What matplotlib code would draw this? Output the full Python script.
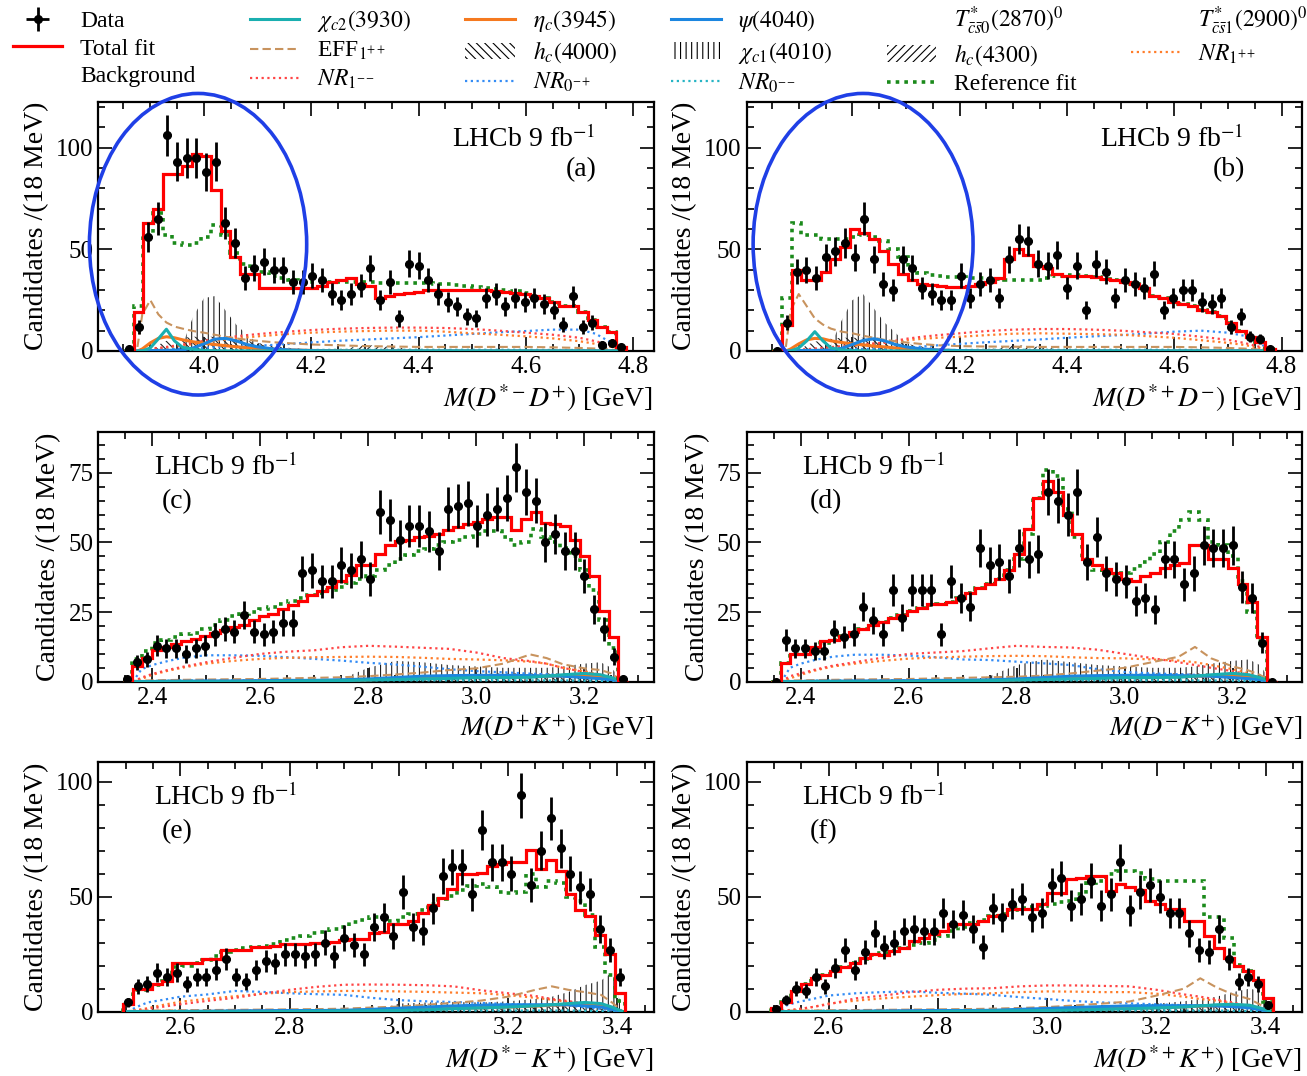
import numpy as np
import matplotlib
matplotlib.use('Agg')
import matplotlib.pyplot as plt
from matplotlib.lines import Line2D
from matplotlib.patches import Patch, Ellipse
from matplotlib.ticker import MultipleLocator, FormatStrFormatter

plt.rcParams['font.family'] = 'serif'
plt.rcParams['font.serif'] = ['Liberation Serif', 'DejaVu Serif']
plt.rcParams['mathtext.fontset'] = 'stix'
plt.rcParams['hatch.linewidth'] = 0.8

BIN = 0.018

# centre of the first bin of each spectrum
x0_ab = 3.860
x0_cd = 2.354
x0_ef = 2.504

# ---------------- (a) M(D*- D+) ----------------
a_data = [1, 12, 56, 65, 106, 93, 95, 95, 88, 93, 63, 53, 36, 41, 44, 40, 40, 34, 34, 37,
          35, 28, 25, 28, 32, 41, 25, 34, 16, 43, 42, 35, 28, 24, 22, 17, 16, 26, 28, 22,
          26, 24, 26, 23, 20, 13, 27, 12, 14, 3, 4, 2]
a_fit = [0, 19, 63, 70, 87, 87, 91, 97, 96, 79, 59, 46, 38, 38, 31, 31, 31, 31, 31, 31,
         32, 34, 35, 36, 33, 32, 26, 27, 28, 28.5, 29, 30, 30, 30, 30, 30, 30, 30, 29.5, 29,
         28.5, 28, 27, 26, 24, 22, 22, 19, 15, 12, 9.5, 2]
a_ref = [0, 22, 57, 68, 57, 53, 52, 53, 56, 62, 57, 48, 43, 41, 39, 37, 36, 35, 34, 34,
         34, 34, 34, 34, 34, 34, 33.5, 33.5, 33.5, 33.5, 33.5, 33.5, 33, 33, 32.5, 32, 31.5, 31, 30.5, 30,
         29.5, 28.5, 27, 26, 24, 22, 22, 19, 15, 12, 9.5, 2]

# ---------------- (b) M(D*+ D-) ----------------
b_data = [0, 14, 39, 40, 36, 46, 49, 53, 46, 65, 45, 33, 30, 45, 41, 31, 28, 25, 25, 37,
          26, 33, 35, 26, 45, 55, 54, 43, 42, 47, 31, 42, 20, 43, 39, 26, 35, 33, 31, 38,
          20, 26, 30, 30, 24, 23, 26, 12, 17, 7, 6, 1]
b_fit = [0, 13, 40, 35, 35, 39, 45, 51, 60, 58, 55, 49, 43, 38, 35, 33, 32.5, 32, 31.5, 31.5,
         32, 33, 34, 36, 45, 50, 47, 42, 41, 38, 37, 37, 37, 36.5, 35.5, 35, 34, 33, 31, 27,
         26, 24, 23, 22, 20, 19, 17, 14, 10, 7, 4.5, 1]
b_ref = [0, 26, 63, 57, 57, 55, 55, 55, 56, 57, 56, 54, 50, 46, 41, 38.5, 37.5, 37, 36.5, 36.5,
         36, 36, 35.5, 35.5, 35, 35, 35, 35, 36, 37, 37.5, 37.5, 37, 36.5, 35.5, 35, 34, 33, 31, 27,
         26, 24, 23, 22, 20, 19, 17, 14, 10, 7, 4.5, 1]

# ---------------- (c) M(D+ K+) ----------------
c_data = [1, 7, 8, 13, 12, 12, 10, 12, 13, 17, 19, 18, 24, 18, 17, 18, 21, 21, 39, 40,
          36, 36, 42, 40, 44, 37, 61, 58, 51, 56, 56, 54, 47, 62, 63, 64, 56, 60, 62, 66,
          77, 68, 65, 50, 53, 47, 47, 38, 26, 19, 9, 1]
c_fit = [0, 5.5, 8.5, 11.5, 12.5, 13.5, 14.5, 15.5, 16.5, 17.5, 18.5, 19.5, 20.5, 22, 23.5, 24.5, 26, 27.5, 29, 31,
         32.5, 34, 36, 38.5, 42, 42, 46, 49, 50.5, 51, 52, 52.5, 53, 54.5, 55.5, 56.5, 57.5, 58.5, 59, 59,
         54.5, 58.5, 61, 57, 56.5, 56, 51, 45, 38, 25.5, 16, 0]
c_ref = [0, 8, 11, 14, 15, 16, 17, 17.5, 19, 20.5, 22, 23.5, 24.5, 25, 26, 27, 28, 29, 30, 31,
         32, 33, 34, 35.5, 37, 38, 40, 42, 44, 45.5, 47, 47.5, 49, 50, 51, 52, 53, 54, 54, 52,
         49, 50, 55, 52, 50, 48, 45, 40, 33, 22, 12, 0]

# ---------------- (d) M(D- K+) ----------------
d_data = [0, 15, 12, 12, 11, 11, 18, 16, 17, 27, 22, 17, 33, 23, 33, 33, 33, 17, 36, 30,
          27, 48, 42, 43, 38, 48, 44, 46, 68, 65, 60, 68, 43, 52, 39, 37, 36, 29, 30, 26,
          44, 44, 35, 39, 49, 48, 48, 49, 34, 30, 14, 0]
d_fit = [0, 6.6, 10, 10, 12.5, 14.5, 15, 16.5, 17.8, 19, 20.5, 21.5, 23, 24, 25.5, 26.5, 28, 28, 28.5, 30,
         32, 33.5, 35, 37, 40, 46, 55, 66, 72, 68, 60, 53, 44, 42, 40.5, 39, 37, 36, 38, 39,
         41, 42, 42.5, 49, 49, 44, 44, 41, 35, 28.5, 16, 0]
d_ref = [0, 6.6, 10, 10.5, 12, 14, 15, 16.5, 17.5, 19, 20.5, 21.5, 23, 24, 25.5, 26.5, 27.5, 28, 28.5, 30,
         32, 33.5, 35, 37, 40, 44, 53, 66, 76, 74, 62, 52, 44, 40, 39, 38.5, 39, 40.5, 43, 46,
         50, 54, 58, 61, 58, 50, 49, 45, 36, 25, 14.5, 0]

# ---------------- (e) M(D*- K+) ----------------
e_data = [4, 11, 12, 17, 15, 17, 12, 15, 15, 18, 23, 15, 13, 18, 22, 21, 25, 25, 24, 25,
          30, 24, 32, 29, 25, 37, 41, 33, 52, 37, 35, 45, 59, 63, 63, 51, 79, 65, 65, 60,
          94, 55, 70, 84, 71, 60, 54, 51, 36, 27, 15]
e_fit = [3.3, 9.7, 9.7, 12, 13.5, 21, 21, 21.3, 23, 23, 27, 27, 27, 28, 28.3, 28.5, 29.5, 29.5, 29.5, 30,
         30, 30.5, 31, 31.5, 31.5, 34, 34.5, 38, 38, 39.5, 43, 46.5, 49.5, 53.5, 60, 60, 60.5, 63.5, 64, 65,
         65, 70.5, 62, 66, 61, 51, 44, 41.5, 33.5, 25, 8]
e_ref = [3.3, 9.5, 9.5, 11.5, 13.5, 19.5, 20, 21, 22.5, 24, 26, 27, 27.5, 28, 28.5, 29.5, 31, 32, 33, 34,
         34.5, 36, 37, 39, 40, 41, 40.5, 39.5, 41, 42.5, 44, 47, 49, 50.5, 53, 54.5, 55.5, 54, 52, 51.5,
         52, 60, 54, 57, 56, 50, 48, 42, 28, 16, 4.5]

# ---------------- (f) M(D*+ K+) ----------------
f_data = [1, 5, 10, 9, 15, 11, 19, 27, 18, 26, 34, 28, 30, 35, 36, 35, 35, 43, 38, 42,
          36, 28, 45, 41, 47, 49, 41, 43, 55, 58, 46, 49, 57, 46, 51, 65, 44, 52, 55, 50,
          43, 43, 34, 27, 26, 36, 23, 13, 15, 12, 3]
f_fit = [1.5, 4.4, 8.8, 12, 14.6, 16, 17.5, 19.3, 21.2, 23.4, 25, 24.5, 26.3, 27.7, 30.7, 32, 33.6, 35, 38, 38,
         38, 39.4, 41.6, 42, 44.5, 44.5, 44.5, 46.7, 51.8, 51.8, 57.7, 58, 59, 59, 52.6, 55.5, 54, 53, 48.2, 47,
         44.5, 44.5, 39.4, 39.4, 32.8, 27.7, 23.4, 19.7, 17.5, 13.9, 5.8]
f_ref = [1.5, 4.4, 8.8, 12, 14.6, 16, 17.5, 19.3, 21.2, 23, 24.5, 25.5, 26.5, 27.5, 29, 30, 31, 33, 35, 37,
         38.5, 40, 41.5, 42.5, 44, 45, 45.5, 46, 47, 47.5, 48, 51, 56, 57, 60, 61, 61, 60.5, 57.7, 57,
         57, 57, 57, 57, 41, 41, 32, 20.4, 17.5, 13, 4]

# ---------------- fit components ----------------
grid_ab = [3.876, 3.885, 3.90, 3.915, 3.93, 3.945, 3.96, 3.98, 4.00, 4.02, 4.04, 4.06, 4.08, 4.10, 4.13,
           4.16, 4.20, 4.25, 4.30, 4.35, 4.40, 4.45, 4.50, 4.55, 4.60, 4.65, 4.70, 4.73, 4.76, 4.786]

a_eff = [2, 18, 25, 18, 14, 12, 11, 9.8, 9, 8, 7, 6.2, 5.5, 5, 4.3, 3.8, 3.2, 2.8, 2.4, 2.2, 2, 2, 2, 2, 2, 1.8, 1.5, 1.2, 0.7, 0]
a_chic2 = [0, 0, 1.5, 6, 10.7, 5, 1.8, 0.8, 0.3, 0.1, 0, 0, 0, 0, 0, 0, 0, 0, 0, 0, 0, 0, 0, 0, 0, 0, 0, 0, 0, 0]
a_etac = [0, 1, 4, 6.2, 7, 6.5, 5.5, 4.5, 3.8, 3.2, 2.6, 2.1, 1.6, 1.2, 0.8, 0.5, 0.3, 0.1, 0, 0, 0, 0, 0, 0, 0, 0, 0, 0, 0, 0]
a_psi = [0, 0, 0.2, 0.3, 0.3, 0.4, 0.5, 1.5, 3.5, 5.8, 6.2, 5, 3.2, 2, 1, 0.5, 0.2, 0, 0, 0, 0, 0, 0, 0, 0, 0, 0, 0, 0, 0]
a_chic1 = [0, 0, 0, 0, 0, 0, 3, 17, 26, 27, 20, 13, 8, 4, 1, 0, 0, 0, 0, 0, 0, 0, 0, 0, 0, 0, 0, 0, 0, 0]
a_hc4000 = [0, 0, 0, 3, 5, 6, 6.5, 7, 7, 7, 6.5, 6, 5, 4, 2.5, 1.5, 0.8, 0.3, 0, 0, 0, 0, 0, 0, 0, 0, 0, 0, 0, 0]
a_hc4300 = [0, 0, 0, 0, 0, 0, 0, 0, 0, 0, 0, 0, 0, 0, 0, 0, 0, 0.5, 3, 2, 0.5, 0, 0, 0, 0, 0, 0, 0, 0, 0]
a_nr1mm = [0, 0.5, 1, 1.5, 2, 2.6, 3.2, 4, 5, 5.8, 6.5, 7.2, 7.8, 8.3, 9, 9.6, 10.3, 10.9, 11.3, 11.5, 11.5, 11.3, 10.8, 10, 9, 8, 6.5, 4.8, 2.8, 0]
a_nr1pp = [0, 0.4, 0.8, 1.2, 1.7, 2.2, 2.7, 3.4, 4.2, 5, 5.6, 6.2, 6.7, 7.2, 7.8, 8.4, 9, 9.5, 9.8, 10, 10, 9.5, 8.7, 8, 7.2, 6.2, 4.8, 3.5, 2, 0]
a_nr0mp = [0, 0.2, 0.4, 0.6, 0.8, 1, 1.2, 1.4, 1.6, 1.8, 2, 2.2, 2.4, 2.6, 3, 3.5, 4.2, 5, 5.6, 6.2, 6.8, 7.6, 8.4, 9.2, 9.8, 10.5, 10.5, 8.5, 4, 0]
a_nr0mm = [0, 0.1, 0.2, 0.3, 0.4, 0.4, 0.5, 0.5, 0.5, 0.5, 0.5, 0.5, 0.5, 0.5, 0.5, 0.5, 0.5, 0.6, 0.6, 0.6, 0.6, 0.6, 0.6, 0.6, 0.6, 0.5, 0.5, 0.4, 0.2, 0]

b_eff = [2, 20, 28, 22, 16, 13, 11, 9.5, 8.7, 7.5, 6.5, 5.5, 4.8, 4.2, 3.4, 2.8, 2.4, 2.2, 2.1, 2, 2, 2, 2, 2, 2, 1.8, 1.5, 1.2, 0.7, 0]
b_chic2 = [0, 0, 1.5, 5, 9.5, 5, 1.5, 0.5, 0.2, 0.1, 0, 0, 0, 0, 0, 0, 0, 0, 0, 0, 0, 0, 0, 0, 0, 0, 0, 0, 0, 0]
b_etac = [0, 1, 3.5, 5.5, 6.2, 6, 5, 4.2, 3.5, 3, 2.4, 2, 1.5, 1.1, 0.7, 0.4, 0.2, 0.1, 0, 0, 0, 0, 0, 0, 0, 0, 0, 0, 0, 0]
b_psi = [0, 0, 0.2, 0.3, 0.3, 0.4, 0.5, 1.3, 3.2, 5.2, 6, 5, 3.2, 2, 1, 0.5, 0.2, 0, 0, 0, 0, 0, 0, 0, 0, 0, 0, 0, 0, 0]
b_chic1 = [0, 0, 0, 0, 0, 0, 3, 15, 25, 28, 21, 14, 9, 4, 1, 0, 0, 0, 0, 0, 0, 0, 0, 0, 0, 0, 0, 0, 0, 0]
b_hc4000 = [0, 0, 0, 3, 4.5, 5.5, 6, 6.5, 6.5, 6.5, 6, 5.5, 4.5, 3.5, 2.2, 1.3, 0.7, 0.3, 0, 0, 0, 0, 0, 0, 0, 0, 0, 0, 0, 0]
b_hc4300 = [0, 0, 0, 0, 0, 0, 0, 0, 0, 0, 0, 0, 0, 0, 0, 0, 0, 0.5, 3, 2, 0.5, 0, 0, 0, 0, 0, 0, 0, 0, 0]
b_nr1mm = [0, 0.3, 0.6, 0.9, 1.2, 1.5, 1.9, 2.4, 2.9, 3.3, 3.7, 4, 5, 6, 7, 7.8, 8.7, 9.8, 10.5, 10.8, 10.8, 10.5, 10, 9.2, 8.4, 7, 5.5, 4, 2, 0]
b_nr1pp = [0, 0.3, 0.5, 0.8, 1, 1.3, 1.6, 2, 2.5, 3, 3.5, 4, 4.6, 5.2, 6, 6.5, 7, 7.8, 8.5, 8.7, 8.5, 8.3, 8, 7.3, 6.5, 5.3, 4, 3, 1.5, 0]
b_nr0mp = [0, 0.2, 0.3, 0.4, 0.5, 0.6, 0.7, 0.8, 0.9, 1, 1.1, 1.2, 1.3, 1.5, 2.2, 2.8, 3.5, 4.3, 5, 5.7, 6.5, 7.2, 7.8, 8.6, 9.5, 10, 9, 7.5, 3.5, 0]
b_nr0mm = [0, 0.1, 0.2, 0.3, 0.4, 0.4, 0.5, 0.5, 0.5, 0.5, 0.5, 0.5, 0.5, 0.5, 0.5, 0.5, 0.5, 0.6, 0.6, 0.6, 0.6, 0.6, 0.6, 0.6, 0.6, 0.5, 0.5, 0.4, 0.2, 0]

grid_cd = [2.364, 2.38, 2.40, 2.43, 2.46, 2.50, 2.55, 2.60, 2.65, 2.70, 2.75, 2.80,
           2.85, 2.90, 2.95, 3.00, 3.05, 3.10, 3.13, 3.16, 3.20, 3.23, 3.25, 3.272]

c_eff = [0.3, 0.4, 0.5, 0.6, 0.7, 0.8, 0.9, 1, 1.2, 1.4, 1.6, 2, 2.6, 3.3, 4.2, 4.8, 6.5, 9.8, 8.5, 6.3, 4.8, 4.2, 3, 0]
c_chic2 = [0, 0, 0, 0, 0, 0, 0, 0.1, 0.2, 0.3, 0.4, 0.6, 0.8, 1, 1.2, 1.5, 1.5, 1.6, 2, 2.5, 3, 2.5, 1.5, 0]
c_etac = [0, 0, 0, 0, 0, 0.1, 0.1, 0.2, 0.3, 0.4, 0.5, 0.7, 1, 1.3, 1.5, 1.7, 1.8, 1.9, 2, 2.1, 2, 1.7, 1, 0]
c_psi = [0, 0.1, 0.1, 0.2, 0.2, 0.3, 0.3, 0.4, 0.5, 0.5, 0.7, 1, 1.5, 2, 2.2, 2.3, 2.3, 2.2, 2.1, 2, 1.5, 1.1, 0.8, 0]
c_chic1 = [0, 0, 0, 0, 0, 0, 0, 0, 0, 0, 1, 5, 7.5, 7, 6, 5.5, 5, 5, 5, 5.5, 6.5, 7, 5, 0]
c_hc4000 = [0, 0, 0, 0, 0, 0, 0, 0, 0, 0, 0, 0, 1, 2, 2.5, 2.8, 3, 3, 3, 3, 2.5, 2, 1, 0]
c_nr1mm = [0, 1.5, 2.8, 4.3, 5.5, 7, 8.6, 10, 10.8, 11.3, 12.4, 12.9, 12.6, 12.2, 11.8, 10.5, 8.5, 7.4, 6.5, 5, 3.5, 2.5, 1.5, 0]
c_nr1pp = [0, 1, 2.5, 4, 5.2, 6.5, 7.5, 8.2, 8.6, 8.8, 8.9, 9, 8.9, 8.6, 8.2, 8, 7.7, 7.2, 6.5, 5, 3.8, 2.5, 1.5, 0]
c_nr0mp = [0, 4.5, 6, 7.5, 8.7, 9.5, 9.5, 9.3, 8.8, 8.2, 7.6, 6.8, 6.2, 5.4, 4.5, 3.8, 3.4, 2.9, 2.7, 2.4, 2, 1.5, 1, 0]
c_nr0mm = [0, 0.2, 0.3, 0.4, 0.5, 0.5, 0.5, 0.5, 0.5, 0.5, 0.5, 0.5, 0.5, 0.5, 0.5, 0.5, 0.5, 0.5, 0.5, 0.5, 0.4, 0.3, 0.2, 0]

d_eff = [0.3, 0.4, 0.5, 0.6, 0.7, 0.8, 0.9, 1, 1.2, 1.4, 1.6, 1.8, 2.2, 3, 4, 5, 7, 9, 12.5, 8.4, 5.5, 4, 2.5, 0]
d_chic2 = [0, 0, 0, 0, 0, 0, 0, 0.1, 0.2, 0.3, 0.4, 0.6, 0.8, 1, 1.2, 1.5, 1.5, 1.6, 2, 2.5, 3, 2.5, 1.5, 0]
d_etac = [0, 0, 0, 0, 0, 0.1, 0.1, 0.2, 0.3, 0.4, 0.5, 0.7, 1, 1.3, 1.5, 1.7, 1.8, 1.9, 2, 2.1, 2, 1.7, 1, 0]
d_psi = [0, 0.1, 0.1, 0.2, 0.2, 0.3, 0.3, 0.4, 0.5, 0.5, 0.7, 1, 1.5, 2, 2.2, 2.3, 2.3, 2.2, 2.1, 2, 1.5, 1.1, 0.8, 0]
d_chic1 = [0, 0, 0, 0, 0, 0, 0, 0, 0, 0, 2, 6, 8, 7, 6, 5.5, 5, 5, 5.5, 6.5, 7.5, 8, 6, 0]
d_hc4000 = [0, 0, 0, 0, 0, 0, 0, 0, 0, 0, 0, 0, 1, 2, 2.5, 2.8, 3, 3, 3, 3, 2.5, 2, 1, 0]
d_nr1mm = [0, 2, 3, 4.5, 5.8, 7, 8.6, 10, 10.5, 11, 12, 12.9, 12.5, 12.3, 11.5, 10, 8.5, 7, 6, 5, 3.8, 2.5, 1.2, 0]
d_nr1pp = [0, 1.2, 2.5, 4.2, 5.5, 6.5, 7.5, 8.3, 8.7, 9, 9.2, 9.3, 9.2, 8.8, 8.5, 8.4, 8, 7.6, 7, 6, 4.5, 3, 1.5, 0]
d_nr0mp = [0, 5, 6.5, 8, 9, 9.7, 9.7, 9.4, 8.8, 8, 7.8, 7.2, 6.6, 6, 4.5, 3.5, 3, 2.7, 2.5, 2.2, 1.8, 1.3, 0.8, 0]
d_nr0mm = [0, 0.2, 0.3, 0.4, 0.5, 0.5, 0.5, 0.5, 0.5, 0.5, 0.5, 0.5, 0.5, 0.5, 0.5, 0.5, 0.5, 0.5, 0.5, 0.5, 0.4, 0.3, 0.2, 0]

grid_ef = [2.504, 2.52, 2.54, 2.57, 2.60, 2.65, 2.70, 2.75, 2.80, 2.85, 2.90, 2.95,
           3.00, 3.05, 3.10, 3.15, 3.20, 3.25, 3.28, 3.31, 3.34, 3.37, 3.39, 3.41]

e_eff = [0.3, 0.4, 0.5, 0.5, 0.6, 0.7, 0.8, 0.9, 1, 1.1, 1.3, 1.8, 2.2, 3, 3.8, 4.8, 6.5, 9.5, 11, 9.5, 8.5, 7.3, 4, 0]
e_chic2 = [0, 0, 0, 0, 0, 0, 0, 0, 0.1, 0.2, 0.3, 0.4, 0.5, 0.8, 1.3, 1.6, 2, 2.5, 3, 3.5, 4, 3.5, 2, 0]
e_etac = [0, 0, 0, 0, 0, 0.1, 0.1, 0.2, 0.3, 0.4, 0.5, 0.6, 0.8, 1.1, 1.4, 1.7, 2, 2.4, 2.8, 3, 3, 2.5, 1.5, 0]
e_psi = [0, 0, 0, 0, 0.1, 0.2, 0.3, 0.4, 0.5, 0.5, 0.6, 1, 1.5, 2, 2.5, 2.8, 3, 3, 3, 3, 2.5, 2, 1, 0]
e_chic1 = [0, 0, 0, 0, 0, 0, 0, 0, 0, 0, 0, 0, 3.5, 4, 4.2, 4, 4.5, 5.5, 6.5, 8.5, 11.5, 13.5, 17, 0]
e_hc4000 = [0, 0, 0, 0, 0, 0, 0, 0, 0, 0, 0, 0, 0.5, 1.5, 2.5, 2.8, 3, 3.2, 3.5, 3.5, 3, 2.5, 1.5, 0]
e_nr1mm = [0, 0.5, 1.2, 2.2, 3.2, 4.7, 6, 7.8, 9.5, 10.8, 11.7, 11.8, 11.7, 11.5, 11, 9.3, 8, 6.8, 5.5, 4.6, 3.5, 2, 1, 0]
e_nr1pp = [0, 0.7, 1.5, 3, 4.3, 5.6, 6.7, 7.8, 8.5, 8.8, 9, 9, 8.8, 8.6, 8.3, 8, 7.2, 6, 5.2, 4.2, 3, 1.8, 0.8, 0]
e_nr0mp = [0, 2, 4, 5.2, 6.5, 7.5, 9, 8.6, 8, 7.6, 7.3, 6, 5, 4.5, 4.2, 3.8, 3.3, 3, 2.9, 2.6, 2, 1.2, 0.5, 0]
e_nr0mm = [0, 0.2, 0.3, 0.4, 0.5, 0.5, 0.5, 0.5, 0.5, 0.5, 0.5, 0.5, 0.5, 0.5, 0.5, 0.5, 0.5, 0.5, 0.5, 0.5, 0.4, 0.3, 0.2, 0]

f_eff = [0.3, 0.4, 0.5, 0.5, 0.6, 0.7, 0.8, 0.9, 1, 1.1, 1.3, 1.6, 2, 2.7, 3.5, 4.4, 7, 10, 14.5, 10.5, 7.5, 5.5, 3, 0]
f_chic2 = [0, 0, 0, 0, 0, 0, 0, 0, 0.1, 0.2, 0.3, 0.4, 0.5, 0.7, 1, 1.3, 1.6, 2, 2.5, 3, 3.2, 2.8, 1.6, 0]
f_etac = [0, 0, 0, 0, 0, 0.1, 0.1, 0.2, 0.3, 0.4, 0.5, 0.6, 0.8, 1, 1.2, 1.5, 1.8, 2.1, 2.4, 2.6, 2.6, 2.2, 1.2, 0]
f_psi = [0, 0, 0, 0, 0.1, 0.2, 0.3, 0.4, 0.5, 0.5, 0.6, 1, 1.4, 1.8, 2.2, 2.5, 2.6, 2.6, 2.6, 2.5, 2.2, 1.7, 0.9, 0]
f_chic1 = [0, 0, 0, 0, 0, 0, 0, 0, 0, 0, 0, 0, 1.5, 2, 2.5, 3, 3.5, 4.5, 5.5, 6.5, 8.5, 10, 9, 0]
f_hc4000 = [0, 0, 0, 0, 0, 0, 0, 0, 0, 0, 0, 0, 0.5, 1.2, 2, 2.4, 2.6, 2.8, 3, 3, 2.6, 2, 1.2, 0]
f_nr1mm = [0, 0.5, 1, 2, 3.2, 5.8, 7, 8.5, 9.5, 10, 10.2, 11, 11.4, 11.4, 11.2, 11, 9.5, 7.5, 6.5, 5.3, 4, 2.3, 1.2, 0]
f_nr1pp = [0, 0.4, 0.8, 2, 3.5, 4.8, 5.8, 6.5, 7.2, 7.7, 8, 8.5, 8.8, 8.7, 8.5, 8.5, 7.8, 6.5, 5.5, 4.8, 3.5, 2, 1, 0]
f_nr0mp = [0, 2.5, 4, 5.5, 7, 8, 8.5, 8.8, 8.2, 7.8, 7.3, 6.3, 5.5, 4.6, 4, 3.6, 3.2, 2.8, 2.6, 2.3, 2, 1.3, 0.6, 0]
f_nr0mm = [0, 0.2, 0.3, 0.4, 0.5, 0.5, 0.5, 0.5, 0.5, 0.5, 0.5, 0.5, 0.5, 0.5, 0.5, 0.5, 0.5, 0.5, 0.5, 0.5, 0.4, 0.3, 0.2, 0]

x_labels = [r'$M(D^{*-}D^{+})$ [GeV]', r'$M(D^{*+}D^{-})$ [GeV]',
            r'$M(D^{+}K^{+})$ [GeV]', r'$M(D^{-}K^{+})$ [GeV]',
            r'$M(D^{*-}K^{+})$ [GeV]', r'$M(D^{*+}K^{+})$ [GeV]']
tags = ['(a)', '(b)', '(c)', '(d)', '(e)', '(f)']

# line styles for the components
DOT = (0, (1, 1.6))
st_eff = dict(color='#c8935e', lw=1.5, ls=(0, (4, 2)))
st_chic2 = dict(color='#1aafb0', lw=2.2)
st_etac = dict(color='#f5791f', lw=2.2)
st_psi = dict(color='#1c86e0', lw=2.2)
st_nr1mm = dict(color='#ff4545', lw=1.6, ls=DOT)
st_nr1pp = dict(color='#ff7d2a', lw=1.6, ls=DOT)
st_nr0mp = dict(color='#348cf5', lw=1.6, ls=DOT)
st_nr0mm = dict(color='#26b4c4', lw=1.6, ls=DOT)
H_CHIC1 = '|||'
H_HC4000 = '\\\\\\\\'
H_HC4300 = '////'
RED = '#ff0000'
GREEN = '#1b8a1b'
ELL = '#1f3fe6'
SERIF = 'Liberation Serif'

fig = plt.figure(figsize=(13.07, 10.76), dpi=100)
W, H = 0.4248, 0.2317
lefts = [0.0752, 0.5713]
bottoms = [0.6738, 0.3664, 0.0598]


def draw(ax, x0, data, fit, ref, grid, comps, hatches, xlim, ylim, ymaj, ymin, xlabel, tag, left_text):
    data = np.asarray(data, dtype=float)
    n = len(data)
    xc = x0 + BIN * np.arange(n)
    edges = x0 - BIN / 2 + BIN * np.arange(n + 1)

    for vals, hatch in hatches:
        ax.fill_between(grid, 0, vals, facecolor='none', edgecolor='#222222', hatch=hatch, lw=0, zorder=2)
    for vals, st in comps:
        ax.plot(grid, vals, zorder=3, **st)

    ax.stairs(ref, edges, baseline=0, color=GREEN, lw=2.6, ls=(0, (1, 1.4)), zorder=5)
    ax.stairs(fit, edges, baseline=0, color=RED, lw=2.3, zorder=6)
    eb = ax.errorbar(xc, data, yerr=np.sqrt(data), xerr=0.0065, fmt='o', ms=5.5, color='k',
                     elinewidth=2, capsize=0, zorder=8)

    ax.set_xlim(*xlim)
    ax.set_ylim(*ylim)
    ax.xaxis.set_major_locator(MultipleLocator(0.2))
    ax.xaxis.set_minor_locator(MultipleLocator(0.05))
    ax.xaxis.set_major_formatter(FormatStrFormatter('%.1f'))
    ax.yaxis.set_major_locator(MultipleLocator(ymaj))
    ax.yaxis.set_minor_locator(MultipleLocator(ymin))
    ax.yaxis.set_major_formatter(FormatStrFormatter('%d'))
    ax.tick_params(which='both', direction='in', top=True, right=True, labelsize=18,
                   width=1.2, labelfontfamily=SERIF)
    ax.tick_params(which='major', length=10)
    ax.tick_params(which='minor', length=5)
    for s in ax.spines.values():
        s.set_linewidth(1.6)
    ax.set_ylabel('Candidates /(18 MeV)', fontsize=20, loc='top', labelpad=5)
    ax.set_xlabel(xlabel, fontsize=20, loc='right', labelpad=3)

    if left_text:
        ax.text(0.100, 0.829, r'LHCb 9 fb$^{-1}$', transform=ax.transAxes, fontsize=20, ha='left')
        ax.text(0.114, 0.695, tag, transform=ax.transAxes, fontsize=20, ha='left')
    else:
        ax.text(0.895, 0.817, r'LHCb 9 fb$^{-1}$', transform=ax.transAxes, fontsize=20, ha='right')
        ax.text(0.898, 0.702, tag, transform=ax.transAxes, fontsize=20, ha='right')
    return eb


def comp_list(eff, chic2, etac, psi, nr1mm, nr1pp, nr0mp, nr0mm):
    return [(nr0mm, st_nr0mm), (nr0mp, st_nr0mp), (nr1pp, st_nr1pp), (nr1mm, st_nr1mm),
            (eff, st_eff), (etac, st_etac), (psi, st_psi), (chic2, st_chic2)]


xlim_ab = (3.803, 4.838)
xlim_cd = (2.300, 3.328)
xlim_ef = (2.450, 3.466)

ax_a = fig.add_axes([lefts[0], bottoms[0], W, H])
eb = draw(ax_a, x0_ab, a_data, a_fit, a_ref, grid_ab,
          comp_list(a_eff, a_chic2, a_etac, a_psi, a_nr1mm, a_nr1pp, a_nr0mp, a_nr0mm),
          [(a_chic1, H_CHIC1), (a_hc4000, H_HC4000), (a_hc4300, H_HC4300)],
          xlim_ab, (0, 122.6), 50, 10, x_labels[0], tags[0], False)
ax_a.add_patch(Ellipse((3.989, 52.5), 0.405, 148.3, fill=False, ec=ELL, lw=2.6, clip_on=False, zorder=20))

ax_b = fig.add_axes([lefts[1], bottoms[0], W, H])
draw(ax_b, x0_ab, b_data, b_fit, b_ref, grid_ab,
     comp_list(b_eff, b_chic2, b_etac, b_psi, b_nr1mm, b_nr1pp, b_nr0mp, b_nr0mm),
     [(b_chic1, H_CHIC1), (b_hc4000, H_HC4000), (b_hc4300, H_HC4300)],
     xlim_ab, (0, 122.6), 50, 10, x_labels[1], tags[1], False)
ax_b.add_patch(Ellipse((4.020, 52.5), 0.41, 148.3, fill=False, ec=ELL, lw=2.6, clip_on=False, zorder=20))

ax_c = fig.add_axes([lefts[0], bottoms[1], W, H])
draw(ax_c, x0_cd, c_data, c_fit, c_ref, grid_cd,
     comp_list(c_eff, c_chic2, c_etac, c_psi, c_nr1mm, c_nr1pp, c_nr0mp, c_nr0mm),
     [(c_chic1, H_CHIC1), (c_hc4000, H_HC4000)],
     xlim_cd, (0, 89.5), 25, 5, x_labels[2], tags[2], True)

ax_d = fig.add_axes([lefts[1], bottoms[1], W, H])
draw(ax_d, x0_cd, d_data, d_fit, d_ref, grid_cd,
     comp_list(d_eff, d_chic2, d_etac, d_psi, d_nr1mm, d_nr1pp, d_nr0mp, d_nr0mm),
     [(d_chic1, H_CHIC1), (d_hc4000, H_HC4000)],
     xlim_cd, (0, 89.5), 25, 5, x_labels[3], tags[3], True)

ax_e = fig.add_axes([lefts[0], bottoms[2], W, H])
draw(ax_e, x0_ef, e_data, e_fit, e_ref, grid_ef,
     comp_list(e_eff, e_chic2, e_etac, e_psi, e_nr1mm, e_nr1pp, e_nr0mp, e_nr0mm),
     [(e_chic1, H_CHIC1), (e_hc4000, H_HC4000)],
     xlim_ef, (0, 108.4), 50, 10, x_labels[4], tags[4], True)

ax_f = fig.add_axes([lefts[1], bottoms[2], W, H])
draw(ax_f, x0_ef, f_data, f_fit, f_ref, grid_ef,
     comp_list(f_eff, f_chic2, f_etac, f_psi, f_nr1mm, f_nr1pp, f_nr0mp, f_nr0mm),
     [(f_chic1, H_CHIC1), (f_hc4000, H_HC4000)],
     xlim_ef, (0, 108.4), 50, 10, x_labels[5], tags[5], True)

# legend across the top
blank = Line2D([], [], color='none')
handles = [
    eb, Line2D([], [], color=RED, lw=2.3), blank,
    Line2D([], [], **st_chic2), Line2D([], [], **st_eff), Line2D([], [], **st_nr1mm),
    Line2D([], [], **st_etac), Patch(facecolor='none', edgecolor='k', hatch=H_HC4000, lw=0),
    Line2D([], [], **st_nr0mp),
    Line2D([], [], **st_psi), Patch(facecolor='none', edgecolor='k', hatch=H_CHIC1, lw=0),
    Line2D([], [], **st_nr0mm),
    blank, Patch(facecolor='none', edgecolor='k', hatch=H_HC4300, lw=0),
    Line2D([], [], color=GREEN, lw=2.6, ls=(0, (1, 1.4))),
    blank, Line2D([], [], **st_nr1pp),
]
labels = [
    'Data', 'Total fit', 'Background',
    r'$\chi_{c2}(3930)$', r'EFF$_{1^{++}}$', r'$NR_{1^{--}}$',
    r'$\eta_c(3945)$', r'$h_c(4000)$', r'$NR_{0^{-+}}$',
    r'$\psi(4040)$', r'$\chi_{c1}(4010)$', r'$NR_{0^{--}}$',
    r'$T^{*}_{\bar{c}\bar{s}0}(2870)^0$', r'$h_c(4300)$', 'Reference fit',
    r'$T^{*}_{\bar{c}\bar{s}1}(2900)^0$', r'$NR_{1^{++}}$',
]
fig.legend(handles, labels, ncol=6, loc='upper left', bbox_to_anchor=(0.008, 0.998),
           frameon=False, fontsize=17, handlelength=2.1, handletextpad=0.75,
           columnspacing=2.3, labelspacing=0.24, borderaxespad=0, borderpad=0.1)

fig.savefig('out.png', dpi=100)
